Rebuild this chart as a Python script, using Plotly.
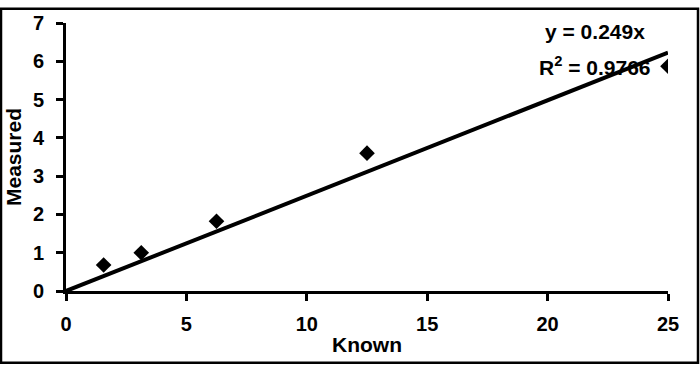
import plotly.graph_objects as go

known = [1.5625, 3.125, 6.25, 12.5, 25]
measured = [0.68, 1.0, 1.82, 3.6, 5.87]
slope = 0.249
r2 = 0.9766
x_ticks = [0, 5, 10, 15, 20, 25]
y_ticks = [0, 1, 2, 3, 4, 5, 6, 7]

FONT = "Liberation Sans, Arial, sans-serif"

fig = go.Figure()
fig.add_trace(go.Scatter(
    x=[0, max(known)], y=[0, slope * max(known)], mode="lines",
    line=dict(color="black", width=4), hoverinfo="skip"))
fig.add_trace(go.Scatter(
    x=known, y=measured, mode="markers",
    marker=dict(symbol="diamond", size=12, color="black")))

L, R, T, B = 66, 32, 16, 75
W, H = 700, 366
pw, ph = W - L - R, H - T - B

def px_x(p):
    return (p - L) / pw

def px_y(p):
    return (H - B - p) / ph

fig.add_shape(type="rect", xref="paper", yref="paper",
              x0=px_x(1), x1=px_x(698), y0=px_y(364.5), y1=px_y(1.5),
              line=dict(color="black", width=2.5), layer="below")

fig.add_annotation(x=21.97, y=6.78, text=f"y = {slope}x", showarrow=False,
                   font=dict(family=FONT, size=21, color="black", weight="bold"))
fig.add_annotation(x=21.97, y=5.88, text=f"R<sup>2</sup> = {r2}", showarrow=False,
                   font=dict(family=FONT, size=21, color="black", weight="bold"))

fig.update_layout(
    width=W, height=H, margin=dict(l=L, r=R, t=T, b=B),
    paper_bgcolor="white", plot_bgcolor="white", showlegend=False,
    font=dict(family=FONT, size=20, color="black", weight="bold"),
    xaxis=dict(range=[0, 25], tickvals=x_ticks, showgrid=False, zeroline=False,
               showline=True, linecolor="black", linewidth=3,
               ticks="outside", ticklen=7, tickwidth=3, tickcolor="black",
               ticklabelstandoff=6,
               title=dict(text="Known", standoff=4,
                          font=dict(family=FONT, size=21, weight="bold"))),
    yaxis=dict(range=[0, 7], tickvals=y_ticks, showgrid=False, zeroline=False,
               showline=True, linecolor="black", linewidth=3,
               ticks="outside", ticklen=7, tickwidth=3, tickcolor="black",
               ticklabelstandoff=8,
               title=dict(text="Measured", standoff=6,
                          font=dict(family=FONT, size=21, weight="bold"))),
)

fig.write_html("out.html")
